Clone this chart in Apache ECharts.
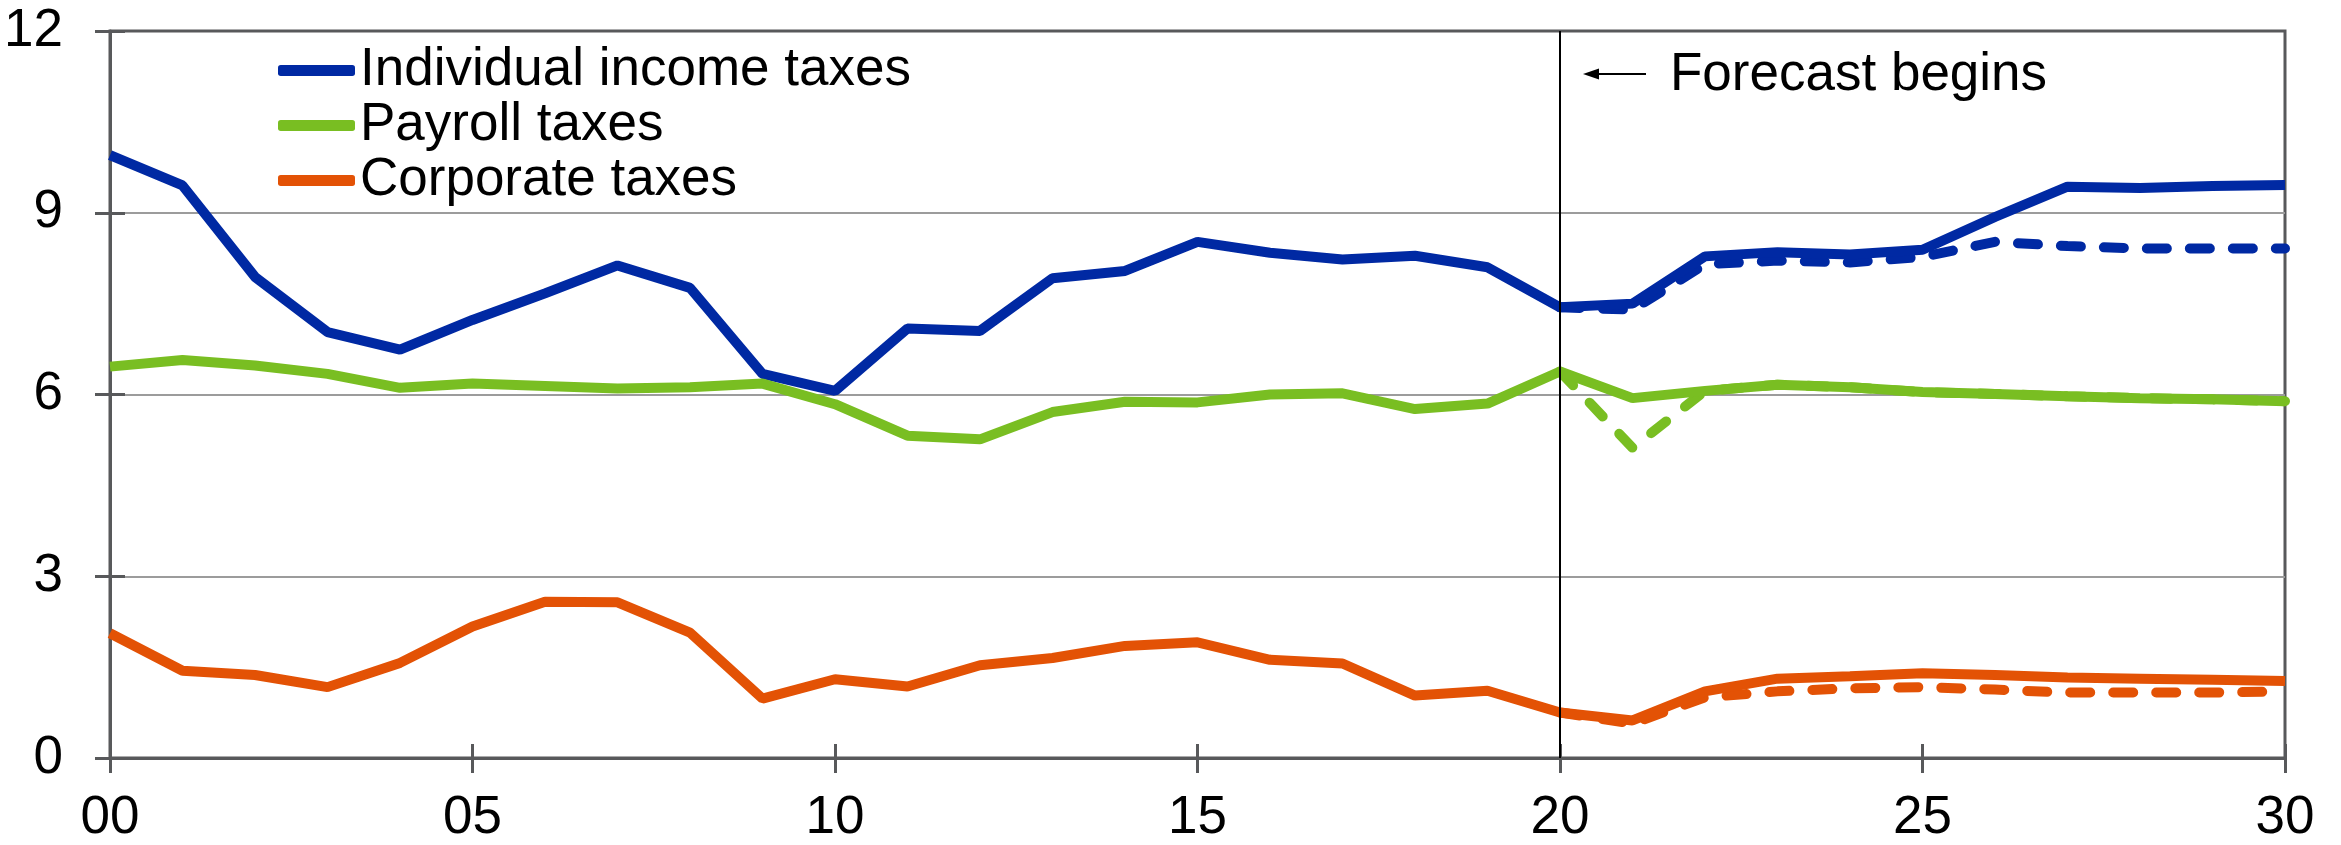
<!DOCTYPE html>
<html>
<head>
<meta charset="utf-8">
<script src="https://cdn.jsdelivr.net/npm/echarts@6/dist/echarts.min.js"></script>
<style>
  html, body { margin: 0; padding: 0; background: #fff; }
  #chart { width: 2341px; height: 845px; }
</style>
</head>
<body>
<div id="chart"></div>
<script>
// Fiscal years, two-digit labels
const years = ['00','01','02','03','04','05','06','07','08','09',
               '10','11','12','13','14','15','16','17','18','19',
               '20','21','22','23','24','25','26','27','28','29','30'];

const seriesNames = ['Individual income taxes', 'Payroll taxes', 'Corporate taxes'];

// Actuals through 2020 plus current projection (solid lines), percent of GDP
const individualIncome = [9.95, 9.45, 7.94, 7.03, 6.74, 7.23, 7.67, 8.13, 7.76, 6.34,
                          6.06, 7.09, 7.05, 7.92, 8.04, 8.52, 8.34, 8.23, 8.29, 8.10,
                          7.44, 7.50, 8.28, 8.35, 8.31, 8.39, 8.93, 9.43, 9.41, 9.44, 9.46];
const payroll          = [6.46, 6.57, 6.48, 6.34, 6.11, 6.18, 6.14, 6.10, 6.12, 6.18,
                          5.84, 5.32, 5.26, 5.71, 5.88, 5.87, 6.00, 6.02, 5.76, 5.85,
                          6.38, 5.94, 6.06, 6.16, 6.12, 6.04, 6.01, 5.97, 5.94, 5.92, 5.89];
const corporate        = [2.06, 1.44, 1.37, 1.17, 1.57, 2.17, 2.58, 2.57, 2.07, 0.98,
                          1.30, 1.18, 1.53, 1.65, 1.85, 1.91, 1.62, 1.56, 1.03, 1.11,
                          0.75, 0.62, 1.10, 1.31, 1.35, 1.40, 1.37, 1.33, 1.31, 1.29, 1.27];

// Alternative projection from 2020 onward (dashed lines)
const individualIncomeAlt = [null, null, null, null, null, null, null, null, null, null,
                             null, null, null, null, null, null, null, null, null, null,
                             7.44, 7.40, 8.15, 8.21, 8.18, 8.27, 8.52, 8.45, 8.41, 8.41, 8.41];
const payrollAlt          = [null, null, null, null, null, null, null, null, null, null,
                             null, null, null, null, null, null, null, null, null, null,
                             6.38, 5.12, 6.06, 6.16, 6.12, 6.04, 6.01, 5.97, 5.94, 5.92, 5.89];
const corporateAlt        = [null, null, null, null, null, null, null, null, null, null,
                             null, null, null, null, null, null, null, null, null, null,
                             0.75, 0.57, 1.00, 1.10, 1.15, 1.17, 1.13, 1.08, 1.08, 1.08, 1.10];

const forecastStart = '20';
const forecastLabel = 'Forecast begins';

const FONT = '"Liberation Sans", Arial, Helvetica, sans-serif';
const FS = 53;
const AXIS = '#58595B';
const GRIDC = '#9C9C9C';
const BLUE = '#0029A3';
const GREEN = '#79BE22';
const ORANGE = '#E35205';
const LW = 10;

const W = 2341, H = 845;
const grid = { left: 110, right: 56, top: 31, bottom: 86 };
const plotW = W - grid.left - grid.right;
const plotH = H - grid.top - grid.bottom;

const chart = echarts.init(document.getElementById('chart'), null, { renderer: 'canvas' });

function solid(name, data, color, extra) {
  return Object.assign({
    name, type: 'line', data, z: 3,
    symbol: 'none', showSymbol: false,
    color,
    lineStyle: { color, width: LW }
  }, extra || {});
}
function dashed(name, data, color, dash) {
  return {
    name, type: 'line', data, z: 2,
    symbol: 'none', showSymbol: false,
    color,
    lineStyle: { color, width: LW, type: dash, cap: 'round' }
  };
}

const tickStyle = { color: AXIS, width: 3 };

chart.setOption({
  animation: false,
  backgroundColor: '#fff',
  grid: Object.assign({ show: true, borderColor: AXIS, borderWidth: 3, backgroundColor: 'transparent' }, grid),
  legend: {
    data: seriesNames,
    orient: 'vertical',
    left: 278, top: 43, padding: 0,
    itemWidth: 77, itemHeight: 11, itemGap: 0,
    icon: 'roundRect',
    selectedMode: false,
    textStyle: { fontFamily: FONT, fontSize: FS, color: '#000', lineHeight: 55 }
  },
  xAxis: [
    {
      type: 'category', data: years, boundaryGap: false,
      axisLine: { lineStyle: { color: AXIS, width: 3 } },
      axisTick: { interval: 4, length: 15, lineStyle: tickStyle },
      axisLabel: { interval: 4, margin: 34, fontFamily: FONT, fontSize: FS, color: '#000' },
      splitLine: { show: false }
    },
    {
      // inner half of the bottom ticks
      type: 'category', data: years, boundaryGap: false,
      position: 'top', offset: -plotH,
      axisLine: { show: false },
      axisTick: { interval: 4, length: 15, lineStyle: tickStyle },
      axisLabel: { show: false },
      splitLine: { show: false }
    }
  ],
  yAxis: [
    {
      type: 'value', min: 0, max: 12, interval: 3,
      axisLine: { show: true, lineStyle: { color: AXIS, width: 3 } },
      axisTick: { show: true, length: 15, lineStyle: tickStyle },
      axisLabel: { margin: 47, fontFamily: FONT, fontSize: FS, color: '#000' },
      splitLine: { show: true, showMinLine: false, showMaxLine: false, lineStyle: { color: GRIDC, width: 2 } }
    },
    {
      // inner half of the left ticks
      type: 'value', min: 0, max: 12, interval: 3,
      position: 'right', offset: -plotW,
      axisLine: { show: false },
      axisTick: { show: true, length: 15, lineStyle: tickStyle },
      axisLabel: { show: false },
      splitLine: { show: false }
    }
  ],
  series: [
    dashed('Individual income taxes (alt)', individualIncomeAlt, BLUE, [20, 23]),
    dashed('Payroll taxes (alt)', payrollAlt, GREEN, [19, 24]),
    dashed('Corporate taxes (alt)', corporateAlt, ORANGE, [20, 23]),
    solid(seriesNames[0], individualIncome, BLUE, {
      markLine: {
        silent: true, symbol: 'none', z: 5,
        label: { show: false },
        lineStyle: { color: '#000', width: 2, type: 'solid' },
        data: [{ xAxis: forecastStart }]
      }
    }),
    solid(seriesNames[1], payroll, GREEN),
    solid(seriesNames[2], corporate, ORANGE)
  ]
});

// "Forecast begins" note with a leftward arrow, anchored to the forecast line
const p = chart.convertToPixel({ xAxisIndex: 0, yAxisIndex: 0 }, [forecastStart, 12]);
const ay = p[1] + 43;
chart.setOption({
  graphic: [
    { type: 'line', shape: { x1: p[0] + 36, y1: ay, x2: p[0] + 86, y2: ay },
      style: { stroke: '#000', lineWidth: 2 }, z: 10 },
    { type: 'polygon', shape: { points: [[p[0] + 23, ay], [p[0] + 39, ay - 5.5], [p[0] + 39, ay + 5.5]] },
      style: { fill: '#000' }, z: 10 },
    { type: 'text', x: p[0] + 110, y: ay + 1,
      style: { text: forecastLabel, font: FS + 'px ' + FONT, fill: '#000', verticalAlign: 'middle' }, z: 10 }
  ]
});
</script>
</body>
</html>
